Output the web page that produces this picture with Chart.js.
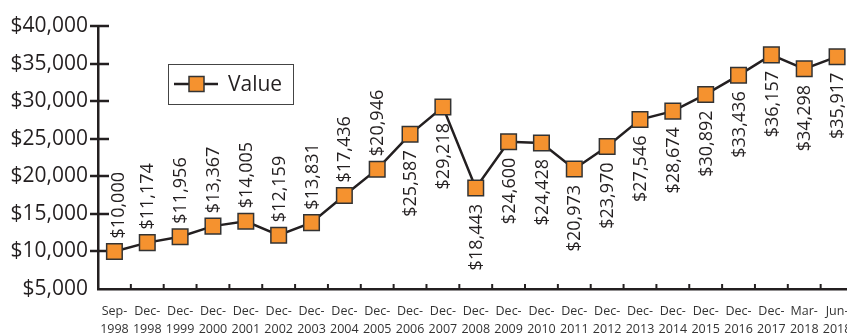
<!DOCTYPE html>
<html>
<head>
<meta charset="utf-8">
<script src="https://cdn.jsdelivr.net/npm/chart.js@4/dist/chart.umd.min.js"></script>
<style>
  html, body { margin: 0; padding: 0; background: #fff; overflow: hidden; }
  #wrap { width: 847px; height: 334px; overflow: hidden; }
  #valueChart { display: block; }
</style>
</head>
<body>
<div id="wrap"><canvas id="valueChart" width="866" height="334"></canvas></div>
<script>
// Growth of a hypothetical $10,000 investment
const periods = [
    ['Sep-', '1998'], ['Dec-', '1998'], ['Dec-', '1999'], ['Dec-', '2000'], ['Dec-', '2001'],
    ['Dec-', '2002'], ['Dec-', '2003'], ['Dec-', '2004'], ['Dec-', '2005'], ['Dec-', '2006'],
    ['Dec-', '2007'], ['Dec-', '2008'], ['Dec-', '2009'], ['Dec-', '2010'], ['Dec-', '2011'],
    ['Dec-', '2012'], ['Dec-', '2013'], ['Dec-', '2014'], ['Dec-', '2015'], ['Dec-', '2016'],
    ['Dec-', '2017'], ['Mar-', '2018'], ['Jun-', '2018']
];
const values = [
    10000, 11174, 11956, 13367, 14005, 12159, 13831, 17436, 20946, 25587, 29218, 18443,
    24600, 24428, 20973, 23970, 27546, 28674, 30892, 33436, 36157, 34298, 35917
];
const yMin = 5000;
const yMax = 40000;
const yStep = 5000;

const INK = '#231F20';
const ORANGE = '#F5922F';

function money(v) {
    return '$' + v.toLocaleString('en-US');
}

// value labels, rotated; up to Dec-2005 they sit above the point, later ones below
const valueLabels = {
    id: 'valueLabels',
    afterDatasetsDraw(chart) {
        const ctx = chart.ctx;
        const pts = chart.getDatasetMeta(0).data;
        ctx.save();
        ctx.font = '18px "Open Sans", sans-serif';
        ctx.fillStyle = INK;
        ctx.textBaseline = 'middle';
        pts.forEach((p, i) => {
            const text = money(values[i]);
            ctx.save();
            ctx.translate(p.x + (i === 0 ? 4 : 1), p.y);
            ctx.rotate(-Math.PI / 2);
            if (i < 9) {
                ctx.textAlign = 'left';
                ctx.fillText(text, 13, 0);
            } else {
                ctx.textAlign = 'right';
                ctx.fillText(text, -16, 0);
            }
            ctx.restore();
        });
        ctx.restore();
    }
};

// cross ticks on the value axis, small inward ticks between categories
const axisTicks = {
    id: 'axisTicks',
    beforeDatasetsDraw(chart) {
        const ctx = chart.ctx;
        const { x, y } = chart.scales;
        const area = chart.chartArea;
        ctx.save();
        ctx.strokeStyle = INK;
        ctx.lineWidth = 2.5;
        y.ticks.forEach(t => {
            if (t.value === yMin) return;
            const py = Math.round(y.getPixelForValue(t.value));
            ctx.beginPath();
            ctx.moveTo(area.left - 8, py);
            ctx.lineTo(area.left + 11, py);
            ctx.stroke();
        });
        ctx.lineWidth = 2;
        for (let i = 1; i < periods.length; i++) {
            const px = (x.getPixelForValue(i - 1) + x.getPixelForValue(i)) / 2;
            ctx.beginPath();
            ctx.moveTo(px, area.bottom);
            ctx.lineTo(px, area.bottom - 5);
            ctx.stroke();
        }
        ctx.restore();
    }
};

// boxed legend inside the plot
const boxLegend = {
    id: 'boxLegend',
    afterDraw(chart) {
        const ctx = chart.ctx;
        const ds = chart.data.datasets[0];
        const bx = 168, by = 64, bw = 125, bh = 40;
        ctx.save();
        ctx.fillStyle = '#fff';
        ctx.fillRect(bx, by, bw, bh);
        ctx.strokeStyle = '#444';
        ctx.lineWidth = 1;
        ctx.strokeRect(bx + 0.5, by + 0.5, bw, bh);
        const cy = by + 20;
        ctx.strokeStyle = ds.borderColor;
        ctx.lineWidth = ds.borderWidth;
        ctx.beginPath();
        ctx.moveTo(bx + 6, cy);
        ctx.lineTo(bx + 50, cy);
        ctx.stroke();
        ctx.fillStyle = ds.pointBackgroundColor;
        ctx.strokeStyle = ds.pointBorderColor;
        ctx.lineWidth = ds.pointBorderWidth;
        ctx.fillRect(bx + 21, cy - 7.5, 15, 15);
        ctx.strokeRect(bx + 21, cy - 7.5, 15, 15);
        ctx.fillStyle = INK;
        ctx.font = '21px "Open Sans", sans-serif';
        ctx.textBaseline = 'middle';
        ctx.textAlign = 'left';
        ctx.fillText(ds.label, bx + 60, cy + 1);
        ctx.restore();
    }
};

document.addEventListener('DOMContentLoaded', () => {
    Chart.defaults.font.family = "'Open Sans', sans-serif";
    Chart.defaults.color = INK;

    new Chart(document.getElementById('valueChart').getContext('2d'), {
        type: 'line',
        data: {
            labels: periods,
            datasets: [{
                label: 'Value',
                data: values,
                borderColor: INK,
                borderWidth: 2.5,
                tension: 0,
                pointStyle: 'rect',
                pointRadius: 11,
                pointHoverRadius: 11,
                pointBackgroundColor: ORANGE,
                pointBorderColor: '#333',
                pointBorderWidth: 1.5
            }]
        },
        options: {
            responsive: false,
            animation: false,
            layout: { padding: { top: 26, right: 0, left: 0, bottom: 0 } },
            plugins: {
                legend: { display: false },
                tooltip: { enabled: false }
            },
            scales: {
                x: {
                    offset: true,
                    // invisible tick marks only push the labels down
                    grid: {
                        display: true,
                        drawOnChartArea: false,
                        drawTicks: true,
                        tickLength: 14,
                        color: 'rgba(0,0,0,0)'
                    },
                    border: { color: INK, width: 2.5 },
                    ticks: {
                        autoSkip: false,
                        maxRotation: 0,
                        padding: 0,
                        color: '#333',
                        font: { size: 12.5, lineHeight: 1.4 }
                    },
                    afterFit(scale) { scale.height = 45; }
                },
                y: {
                    min: yMin,
                    max: yMax,
                    grid: { display: false, drawTicks: false },
                    border: { color: INK, width: 2.5 },
                    ticks: {
                        stepSize: yStep,
                        padding: 10,
                        color: INK,
                        font: { size: 21 },
                        callback: v => money(v)
                    },
                    afterFit(scale) { scale.width = 98; }
                }
            }
        },
        plugins: [axisTicks, valueLabels, boxLegend]
    });
});
</script>
</body>
</html>
